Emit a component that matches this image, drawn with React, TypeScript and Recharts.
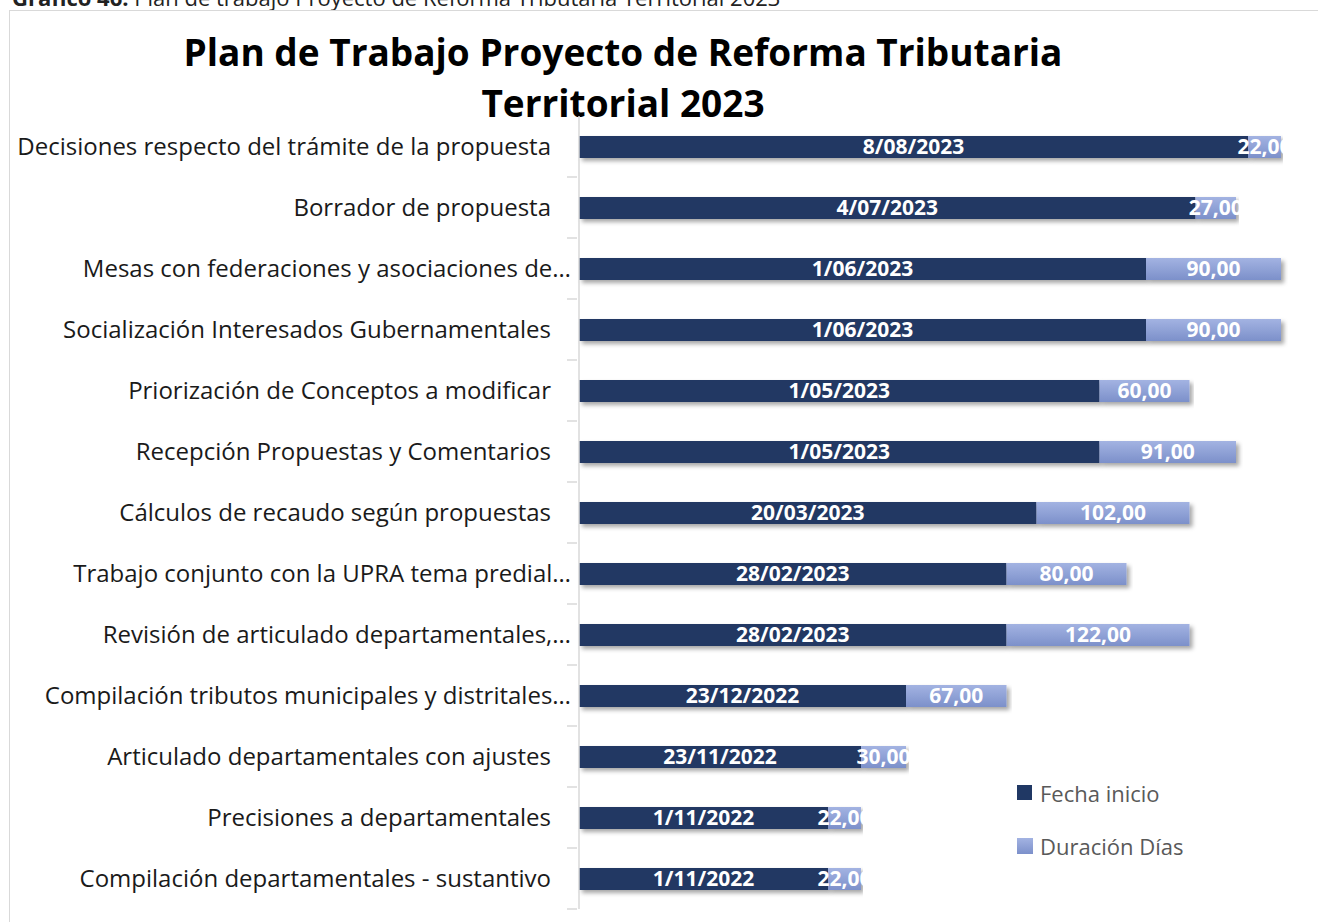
import { BarChart, Bar, XAxis, YAxis, LabelList } from "recharts";

const categories = [
  "Decisiones respecto del trámite de la propuesta",
  "Borrador de propuesta",
  "Mesas con federaciones y asociaciones de…",
  "Socialización Interesados Gubernamentales",
  "Priorización de Conceptos a modificar",
  "Recepción Propuestas y Comentarios",
  "Cálculos de recaudo según propuestas",
  "Trabajo conjunto con la UPRA tema predial…",
  "Revisión de articulado departamentales,…",
  "Compilación tributos municipales y distritales…",
  "Articulado departamentales con ajustes",
  "Precisiones a departamentales",
  "Compilación departamentales - sustantivo",
];

const fechaInicio = [
  "8/08/2023",
  "4/07/2023",
  "1/06/2023",
  "1/06/2023",
  "1/05/2023",
  "1/05/2023",
  "20/03/2023",
  "28/02/2023",
  "28/02/2023",
  "23/12/2022",
  "23/11/2022",
  "1/11/2022",
  "1/11/2022",
];

const duracionDias = [22, 27, 90, 90, 60, 91, 102, 80, 122, 67, 30, 22, 22];

// axis minimum used by the original chart (Excel serial 44700)
const AXIS_MIN = "19/05/2022";
const AXIS_SPAN = 470;

const toDays = (s: string) => {
  const [d, m, y] = s.split("/").map(Number);
  return Date.UTC(y, m - 1, d) / 86400000;
};

const data = categories.map((name, i) => ({
  name,
  inicio: toDays(fechaInicio[i]) - toDays(AXIS_MIN),
  duracion: duracionDias[i],
}));

const DARK = "#203864";
const FONT = "'Open Sans', 'Noto Sans', sans-serif";
const BAND = 61;

const CategoryTick = (props: any) => {
  const { x, y, payload } = props;
  // excel lets the truncated labels run closer to the axis
  const shift = String(payload.value).endsWith("…") ? 0 : 20;
  return (
    <g>
      <text x={x - shift} y={y} dy={8} textAnchor="end" fontSize={24} fill="#1a1a1a" fontFamily={FONT}>
        {payload.value}
      </text>
      <line x1={x - 4} x2={x + 6} y1={y + BAND / 2} y2={y + BAND / 2} stroke="#D9D9D9" strokeWidth={1.5} />
    </g>
  );
};

const barLabel = (getText: (v: any, i: number) => string) => (props: any) => {
  const { x, y, width, height, value, index } = props;
  return (
    <text
      x={x + width / 2}
      y={y + height / 2}
      dy={7}
      textAnchor="middle"
      fill="#fff"
      fontWeight="bold"
      fontSize={21}
      fontFamily={FONT}
    >
      {getText(value, index)}
    </text>
  );
};

const LegendBox = () => (
  <div style={{ position: "absolute", left: 1017, top: 766, fontFamily: FONT, fontSize: 22, color: "#595959" }}>
    <div style={{ display: "flex", alignItems: "center", height: 53 }}>
      <span style={{ width: 15, height: 15, background: DARK, marginRight: 8 }} />
      Fecha inicio
    </div>
    <div style={{ display: "flex", alignItems: "center", height: 53 }}>
      <span style={{ width: 16, height: 16, background: "linear-gradient(#A3B3E2, #7C90CA)", marginRight: 7 }} />
      Duración Días
    </div>
  </div>
);

export default function App() {
  return (
    <div style={{ position: "absolute", left: 0, top: 0, width: 1318, height: 922, overflow: "hidden", background: "#fff" }}>
      <div style={{ position: "absolute", left: 12, top: -18, fontFamily: FONT, fontSize: 22, color: "#222", whiteSpace: "nowrap" }}>
        <b>Gráfico 46:</b> Plan de trabajo Proyecto de Reforma Tributaria Territorial 2023
      </div>
      <div style={{ position: "absolute", left: 9, top: 10, width: 1400, height: 1000, border: "1px solid #D9D9D9" }} />
      <div
        style={{
          position: "absolute",
          left: 0,
          width: 1246,
          top: 26,
          textAlign: "center",
          fontFamily: FONT,
          fontWeight: "bold",
          fontSize: 37,
          lineHeight: "51px",
          color: "#000",
        }}
      >
        Plan de Trabajo Proyecto de Reforma Tributaria
        <br />
        Territorial 2023
      </div>
      <div style={{ position: "absolute", left: 0, top: 0 }}>
        <BarChart
          width={1318}
          height={922}
          data={data}
          layout="vertical"
          margin={{ top: 116, right: 34, bottom: 13, left: 0 }}
          barSize={22}
        >
          <defs>
            <linearGradient id="durGrad" x1="0" y1="0" x2="0" y2="1">
              <stop offset="0%" stopColor="#A3B3E2" />
              <stop offset="100%" stopColor="#7C90CA" />
            </linearGradient>
            <filter id="shadow" x="-5%" y="-50%" width="110%" height="200%">
              <feDropShadow dx="3" dy="3" stdDeviation="2" floodColor="#000" floodOpacity="0.35" />
            </filter>
          </defs>
          <XAxis type="number" domain={[0, AXIS_SPAN]} hide />
          <YAxis
            type="category"
            dataKey="name"
            width={579}
            axisLine={{ stroke: "#D9D9D9", strokeWidth: 1.5 }}
            tickLine={false}
            tick={<CategoryTick />}
            interval={0}
          />
          <Bar dataKey="inicio" name="Fecha inicio" stackId="a" fill={DARK} filter="url(#shadow)" isAnimationActive={false}>
            <LabelList dataKey="inicio" content={barLabel((_v, i) => fechaInicio[i])} />
          </Bar>
          <Bar dataKey="duracion" name="Duración Días" stackId="a" fill="url(#durGrad)" filter="url(#shadow)" isAnimationActive={false}>
            <LabelList dataKey="duracion" content={barLabel((v) => `${v},00`)} />
          </Bar>
        </BarChart>
      </div>
      <LegendBox />
    </div>
  );
}
